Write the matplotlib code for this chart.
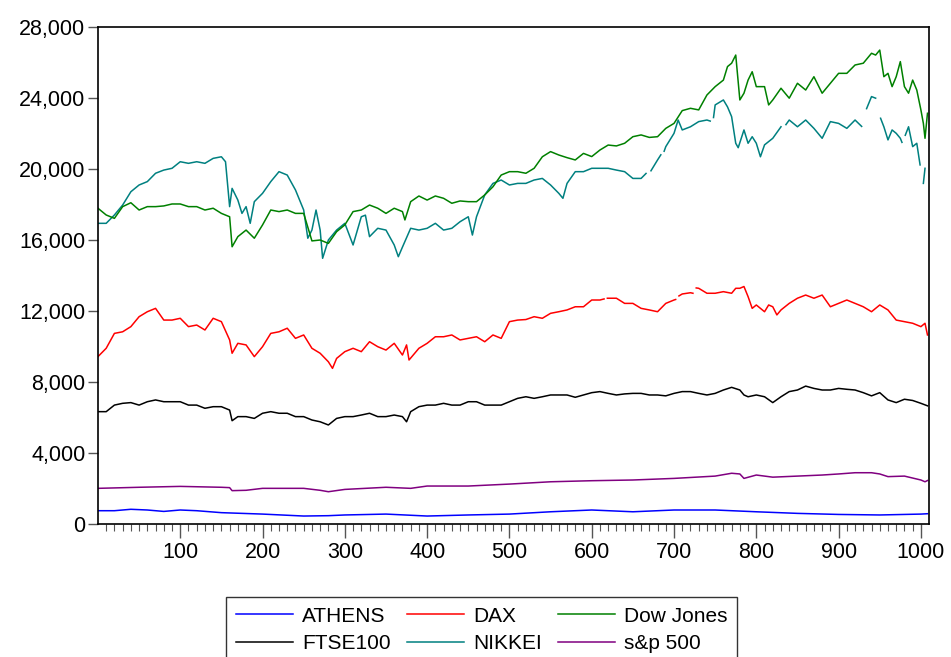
import matplotlib
matplotlib.use("Agg")
import matplotlib.pyplot as plt
import numpy as np
from matplotlib.ticker import MultipleLocator, FixedLocator, FuncFormatter

plt.rcParams["font.family"] = ["Liberation Sans", "DejaVu Sans"]

nan = np.nan

# Dow Jones (observation, value)
dow_obs = [0, 10, 20, 30, 40, 50, 60, 70, 80, 90, 100, 110, 120, 130, 140, 150, 160, 163,
           170, 180, 190, 200, 210, 220, 230, 240, 250, 260, 270, 280, 290, 300, 310, 320,
           330, 340, 350, 360, 370, 373, 380, 390, 400, 410, 420, 430, 440, 450, 460, 470,
           480, 490, 500, 510, 520, 530, 540, 550, 560, 570, 580, 590, 600, 610, 620, 630,
           640, 650, 660, 670, 680, 690, 700, 710, 720, 730, 740, 750, 760, 765, 770, 775,
           780, 785, 790, 795, 800, 810, 815, 820, 830, 840, 850, 860, 870, 880, 890, 900,
           910, 920, 930, 940, 945, 950, 955, 960, 965, 970, 975, 980, 985, 990, 995, 1000,
           1003, 1005, 1008]
dow_val = [17790, 17410, 17220, 17880, 18100, 17690, 17880, 17880, 17920, 18030, 18030,
           17880, 17880, 17690, 17790, 17500, 17310, 15620, 16190, 16560, 16100, 16850,
           17690, 17600, 17690, 17500, 17500, 15950, 16000, 15810, 16470, 16850, 17600,
           17690, 17970, 17790, 17500, 17790, 17600, 17130, 18160, 18480, 18250, 18480,
           18350, 18070, 18200, 18160, 18160, 18540, 19000, 19660, 19850, 19850, 19760,
           20040, 20690, 20980, 20790, 20640, 20510, 20880, 20700, 21070, 21350, 21300,
           21450, 21820, 21920, 21780, 21820, 22290, 22570, 23290, 23420, 23330, 24170,
           24640, 25010, 25770, 25960, 26420, 23890, 24270, 25010, 25480, 24640, 24640,
           23610, 23890, 24550, 23990, 24830, 24450, 25200, 24270, 24830, 25390, 25390,
           25860, 25960, 26520, 26420, 26700, 25200, 25390, 24640, 25200, 26050, 24640,
           24270, 25010, 24450, 23330, 22570, 21730, 23140]

nikkei_obs = [0, 10, 20, 30, 40, 50, 60, 70, 80, 90, 100, 110, 120, 130, 140, 150, 155,
              160, 163, 170, 175, 180, 185, 190, 200, 210, 220, 230, 240, 250, 255, 260,
              265, 270, 273, 280, 290, 300, 310, 320, 325, 330, 340, 350, 360, 365, 370,
              380, 390, 400, 410, 420, 430, 440, 450, 455, 460, 470, 480, 490, 500, 510,
              520, 530, 540, 550, 560, 565, 570, 580, 590, 600, 610, 620, 630, 640, 650,
              660, 666, 669, 672, 680, 684, 686, 688, 690, 700, 705, 710, 720, 730, 740,
              744, 746, 748, 750, 760, 765, 770, 775, 778, 785, 790, 795, 800, 805, 810,
              820, 830, 833, 836, 840, 850, 860, 870, 880, 890, 900, 910, 920, 928, 931,
              934, 940, 945, 948, 951, 955, 960, 965, 970, 975, 977, 979, 981, 985, 990,
              995, 999, 1001, 1003, 1005]
nikkei_val = [16940, 16940, 17410, 17970, 18720, 19100, 19290, 19760, 19940, 20040, 20410,
              20320, 20410, 20320, 20600, 20690, 20410, 17880, 18910, 18250, 17500, 17880,
              16940, 18160, 18630, 19290, 19850, 19660, 18820, 17690, 16100, 16560, 17690,
              16560, 14970, 16000, 16560, 16940, 15720, 17310, 17400, 16190, 16660, 16560,
              15720, 15060, 15600, 16660, 16560, 16660, 16940, 16560, 16660, 17030, 17310,
              16280, 17310, 18540, 19190, 19380, 19100, 19190, 19190, 19380, 19470, 19100,
              18630, 18350, 19190, 19850, 19850, 20040, 20040, 20040, 19940, 19850, 19470,
              19470, 19750, nan, 19900, 20510, 20800, nan, 21000, 21260, 22010, 22760,
              22200, 22380, 22670, 22760, 22700, nan, 22900, 23610, 23890, 23500, 22950,
              21450, 21200, 22200, 21450, 21820, 21450, 20690, 21360, 21730, 22380, nan,
              22500, 22760, 22380, 22760, 22290, 21730, 22670, 22570, 22290, 22760, 22400,
              nan, 23400, 24080, 23990, nan, 22860, 22380, 21640, 22200, 22010, 21730,
              21500, nan, 21900, 22380, 21260, 21450, 20230, nan, 19190, 20040]

dax_obs = [0, 10, 20, 30, 40, 50, 60, 70, 80, 90, 100, 110, 120, 130, 140, 150, 160, 163,
           170, 180, 190, 200, 210, 220, 230, 240, 250, 260, 270, 280, 285, 290, 300, 310,
           320, 330, 340, 350, 360, 370, 375, 378, 390, 400, 410, 420, 430, 440, 450, 460,
           470, 480, 490, 500, 510, 520, 530, 540, 550, 560, 570, 580, 590, 600, 610, 615,
           617, 619, 630, 640, 650, 660, 670, 680, 690, 700, 702, 704, 706, 710, 720, 723,
           725, 727, 730, 740, 750, 760, 770, 775, 780, 785, 790, 795, 800, 810, 815, 820,
           825, 830, 840, 850, 860, 870, 880, 890, 900, 910, 920, 930, 940, 950, 960, 970,
           980, 990, 1000, 1005, 1008]
dax_val = [9430, 9900, 10740, 10830, 11120, 11680, 11960, 12150, 11490, 11490, 11590,
           11120, 11210, 10930, 11590, 11400, 10370, 9620, 10180, 10090, 9430, 9990, 10740,
           10830, 11030, 10460, 10650, 9900, 9620, 9140, 8770, 9330, 9710, 9900, 9710,
           10270, 9990, 9800, 10180, 9520, 10090, 9240, 9900, 10180, 10550, 10550, 10650,
           10370, 10460, 10550, 10270, 10650, 10460, 11400, 11490, 11520, 11680, 11590,
           11870, 11960, 12060, 12240, 12240, 12620, 12620, 12680, nan, 12720, 12720,
           12430, 12430, 12150, 12060, 11960, 12430, 12620, 12650, nan, 12850, 12960,
           13030, 13000, nan, 13300, 13280, 13000, 13000, 13090, 13000, 13280, 13280,
           13380, 12810, 12150, 12340, 11960, 12340, 12240, 11780, 12060, 12430, 12720,
           12900, 12720, 12900, 12240, 12430, 12620, 12430, 12240, 11960, 12340, 12060,
           11490, 11400, 11310, 11120, 11310, 10650]

ftse_obs = list(range(0, 161, 10)) + [163] + list(range(170, 371, 10)) + [375] + \
    list(range(380, 781, 10)) + [785] + list(range(790, 1001, 10)) + [1008]
ftse_val = [6330, 6330, 6700, 6800, 6840, 6700, 6890, 6990, 6890, 6890, 6890, 6700, 6700,
            6520, 6610, 6610, 6420, 5820, 6050, 6050, 5950, 6240, 6330, 6240, 6240, 6050,
            6050, 5860, 5760, 5580, 5950, 6050, 6050, 6140, 6240, 6050, 6050, 6140, 6050,
            5760, 6330, 6610, 6700, 6700, 6800, 6700, 6700, 6890, 6890, 6700, 6700, 6700,
            6890, 7080, 7170, 7080, 7170, 7270, 7270, 7270, 7140, 7270, 7400, 7460, 7360,
            7270, 7330, 7360, 7360, 7270, 7270, 7220, 7360, 7460, 7460, 7360, 7270, 7360,
            7550, 7700, 7550, 7270, 7170, 7270, 7170, 6840, 7170, 7460, 7550, 7770, 7640,
            7550, 7550, 7640, 7590, 7550, 7400, 7220, 7400, 6990, 6840, 7030, 6960, 6800,
            6660]

sp_obs = [0, 50, 100, 150, 160, 163, 180, 200, 250, 270, 280, 300, 350, 380, 400, 450,
          500, 550, 600, 650, 700, 750, 770, 780, 785, 800, 820, 850, 880, 900, 920, 940,
          950, 960, 980, 1000, 1005, 1008]
sp_val = [2010, 2070, 2120, 2070, 2050, 1880, 1900, 2010, 2010, 1900, 1820, 1950, 2070,
          2010, 2140, 2140, 2250, 2380, 2440, 2480, 2570, 2700, 2860, 2820, 2570, 2760,
          2640, 2700, 2760, 2820, 2890, 2890, 2820, 2670, 2700, 2480, 2380, 2450]

athens_obs = [0, 20, 40, 60, 80, 100, 120, 150, 200, 250, 280, 300, 350, 400, 450, 500,
              550, 600, 650, 700, 750, 800, 850, 900, 950, 1000, 1008]
athens_val = [750, 750, 830, 790, 710, 790, 750, 640, 560, 450, 470, 510, 560, 450, 510,
              560, 690, 790, 690, 790, 790, 690, 600, 540, 510, 560, 580]

# legend fills column by column: this order gives the reference's rows
series = [
    ("ATHENS", athens_obs, athens_val, "#0000ff"),
    ("FTSE100", ftse_obs, ftse_val, "#000000"),
    ("DAX", dax_obs, dax_val, "#ff0000"),
    ("NIKKEI", nikkei_obs, nikkei_val, "#008080"),
    ("Dow Jones", dow_obs, dow_val, "#008000"),
    ("s&p 500", sp_obs, sp_val, "#800080"),
]

fig = plt.figure(figsize=(9.51, 6.57), dpi=100)
ax = fig.add_axes([0.103, 0.2024, 0.874, 0.7565])

for name, xs, ys, color in series:
    ax.plot(xs, ys, color=color, linewidth=1.1, label=name)

ax.set_xlim(0, 1010)
ax.set_ylim(0, 28000)
ax.yaxis.set_major_locator(MultipleLocator(4000))
ax.yaxis.set_major_formatter(FuncFormatter(lambda v, p: f"{v:,.0f}"))
ax.xaxis.set_major_locator(FixedLocator(range(100, 1001, 100)))
ax.xaxis.set_minor_locator(FixedLocator([v for v in range(10, 1010, 10) if v % 100]))

ax.tick_params(axis="y", direction="out", length=7, width=1, color="#555555",
               labelsize=15.5, pad=2, right=False)
ax.tick_params(axis="x", which="major", direction="out", length=10, width=1,
               color="#555555", labelsize=15.5, pad=3, top=False)
ax.tick_params(axis="x", which="minor", direction="out", length=5, width=0.8,
               color="#555555", top=False)
for sp in ax.spines.values():
    sp.set_linewidth(1.2)
    sp.set_color("black")

leg = fig.legend(loc="upper left", bbox_to_anchor=(0.238, 0.091),
                 ncol=3, fontsize=15, frameon=True, fancybox=False, edgecolor="black",
                 handlelength=2.75, handletextpad=0.45, borderpad=0.45, labelspacing=0.4,
                 columnspacing=0.75, borderaxespad=0.0)
leg.get_frame().set_linewidth(1.0)

fig.savefig("out.png", dpi=100)
